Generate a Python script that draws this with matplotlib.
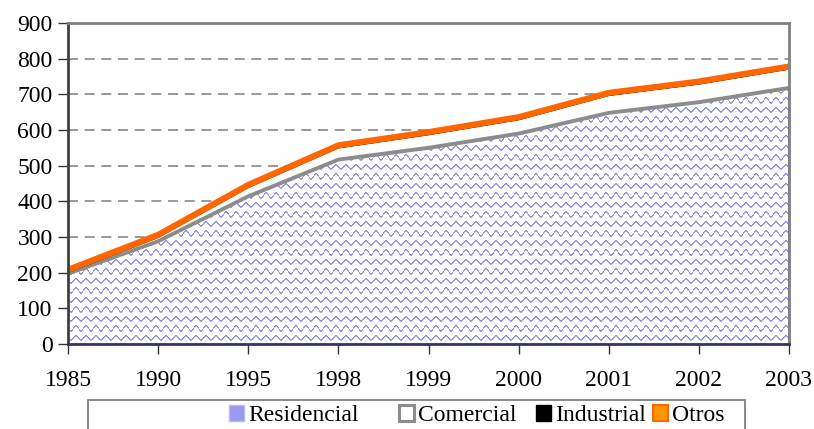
import numpy as np
import matplotlib.pyplot as plt
from matplotlib.patches import Patch, Rectangle

plt.rcParams['font.family'] = 'serif'
plt.rcParams['font.serif'] = ['Liberation Serif', 'DejaVu Serif']

# Datos
years = ['1985', '1990', '1995', '1998', '1999', '2000', '2001', '2002', '2003']
residencial = [197, 288, 414, 517, 550, 590, 648, 678, 718]
comercial = [3, 10, 24, 32, 36, 38, 48, 50, 52]
industrial = [3, 3, 3, 3, 3, 3, 3, 3, 3]
otros = [9, 9, 10, 10, 11, 11, 11, 11, 12]

x = np.arange(len(years))
res = np.array(residencial)
c1 = res + np.array(comercial)
c2 = c1 + np.array(industrial)
c3 = c2 + np.array(otros)

fig = plt.figure(figsize=(8.14, 4.29), dpi=100)
ax = fig.add_axes([68 / 814, 85 / 429, 721 / 814, 321 / 429])

ax.set_xlim(0, len(years) - 1)
ax.set_ylim(0, 900)

# grid
for v in range(100, 900, 100):
    ax.axhline(v, color='#888888', lw=1.2, ls=(0, (6, 4)), zorder=1)

# Residencial with wave texture
poly = ax.fill_between(x, 0, res, facecolor='white', edgecolor='none', zorder=2)
W, H = 721, 321
px, py = np.meshgrid(np.arange(W), np.arange(H))
d = (py - 2.3 * np.sin(2 * np.pi * px / 10.0)) % 9.5
img = np.ones((H, W, 3))
img[d < 2.0] = np.array([0xa8, 0xa8, 0xf2]) / 255.0
img[d < 1.0] = np.array([0x8c, 0x8c, 0xe8]) / 255.0
im = ax.imshow(img, extent=(0, len(years) - 1, 0, 900), aspect='auto',
               interpolation='nearest', zorder=3, origin='upper')
im.set_clip_path(poly.get_paths()[0], transform=ax.transData)
ax.plot([len(years) - 1, len(years) - 1], [0, res[-1]], color='#9999ff', lw=2, zorder=4)

# Comercial (white with gray border)
ax.fill_between(x, res, c1, facecolor='white', edgecolor='none', zorder=4)
ax.plot(x, res, color='#8c8c8c', lw=2.8, zorder=5)
# Industrial
ax.fill_between(x, c1, c2, facecolor='black', edgecolor='none', zorder=5)
ax.plot(x, c1 + 1, color='#222222', lw=1.0, zorder=6)
# Otros
ax.plot(x, c2 + 5, color='#ff6600', lw=4.4, zorder=7, solid_joinstyle='miter')

ax.set_xticks(x)
ax.set_xticklabels(years)
ax.set_yticks(range(0, 1000, 100))
ax.tick_params(axis='y', direction='out', length=7, width=1, color='#333333',
               labelsize=17, pad=4)
ax.tick_params(axis='x', direction='inout', length=14, width=1, color='#333333',
               labelsize=17, pad=12)

for s in ['top', 'right']:
    ax.spines[s].set_color('#808080')
    ax.spines[s].set_linewidth(2)
ax.spines['left'].set_color('#404040')
ax.spines['left'].set_linewidth(2)
ax.spines['bottom'].set_color('#333366')
ax.spines['bottom'].set_linewidth(2)
for s in ax.spines.values():
    s.set_zorder(8)

# legend box
fig.patches.append(Rectangle((88 / 814, -0.05), 657 / 814, 0.05 + 29 / 429,
                             transform=fig.transFigure, facecolor='white',
                             edgecolor='#808080', lw=1.3))

handles = [
    Patch(facecolor='#9a9af0', edgecolor='#b8b8ff', label='Residencial'),
    Patch(facecolor='white', edgecolor='#8c8c8c', lw=2.2, label='Comercial'),
    Patch(facecolor='black', edgecolor='black', label='Industrial'),
    Patch(facecolor='#ff9500', edgecolor='#ff6600', lw=1.5, label='Otros'),
]
xpos = [229, 399, 536, 653]
for h, xp in zip(handles, xpos):
    fig.legend(handles=[h], loc='upper left', bbox_to_anchor=(xp / 814, 24 / 429),
               frameon=False, fontsize=17, handlelength=0.65, handleheight=0.65,
               handletextpad=0.15, borderpad=0, borderaxespad=0)

fig.savefig('out.png', dpi=100)
